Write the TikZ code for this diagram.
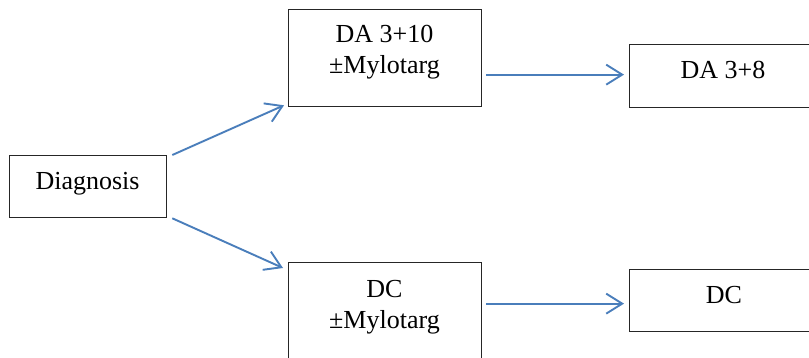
\documentclass[tikz,border=0pt]{standalone}
\usepackage{fontspec}
\setmainfont{Liberation Serif}
\usetikzlibrary{arrows.meta,calc}
\definecolor{arrowblue}{RGB}{74,126,187}
\begin{document}
\begin{tikzpicture}[x=1pt,y=-1pt,
  box/.style={draw=black!85, line width=1.3pt, anchor=north west, inner sep=0pt},
  lbl/.style={font=\fontsize{26}{31}\selectfont, inner sep=0pt, anchor=base},
  conn/.style={draw=arrowblue, line width=1.9pt, -{Straight Barb[length=16pt,width=20pt]}}
]
\useasboundingbox (0,0) rectangle (809,358);
\clip (0,0) rectangle (809,358);
% boxes
\node[box, minimum width=157pt, minimum height=62pt] (diag) at (9,155) {};
\node[box, minimum width=193pt, minimum height=97pt] (da) at (288,9) {};
\node[box, minimum width=188pt, minimum height=63pt] (d8) at (629,44) {};
\node[box, minimum width=193pt, minimum height=110pt] (dc) at (288,262) {};
\node[box, minimum width=188pt, minimum height=62pt] (dcr) at (629,269) {};
% texts
\node[lbl] (diagt) at (87.5,190) {Diagnosis};
\node[lbl] (dat1) at (384.5,43) {DA 3+10};
\node[lbl] (dat2) at (384.5,74) {±Mylotarg};
\node[lbl] (d8t) at (723,79) {DA 3+8};
\node[lbl] (dct1) at (384.5,298) {DC};
\node[lbl] (dct2) at (384.5,328) {±Mylotarg};
\node[lbl] (dcrt) at (724,304) {DC};
% connectors
\draw[conn] ($(diag.north east)+(5,0)$) -- ($(da.south west)+(-4,-2)$);
\draw[conn] ($(diag.south east)+(5,0)$) -- ($(dc.north west)+(-5,6)$);
\draw[conn] ($(da.east |- d8.west)+(4,-1.5)$) -- ($(d8.west)+(-5,-1.5)$);
\draw[conn] ($(dc.east |- dcr.west)+(4,3)$) -- ($(dcr.west)+(-5,3)$);
\end{tikzpicture}
\end{document}
